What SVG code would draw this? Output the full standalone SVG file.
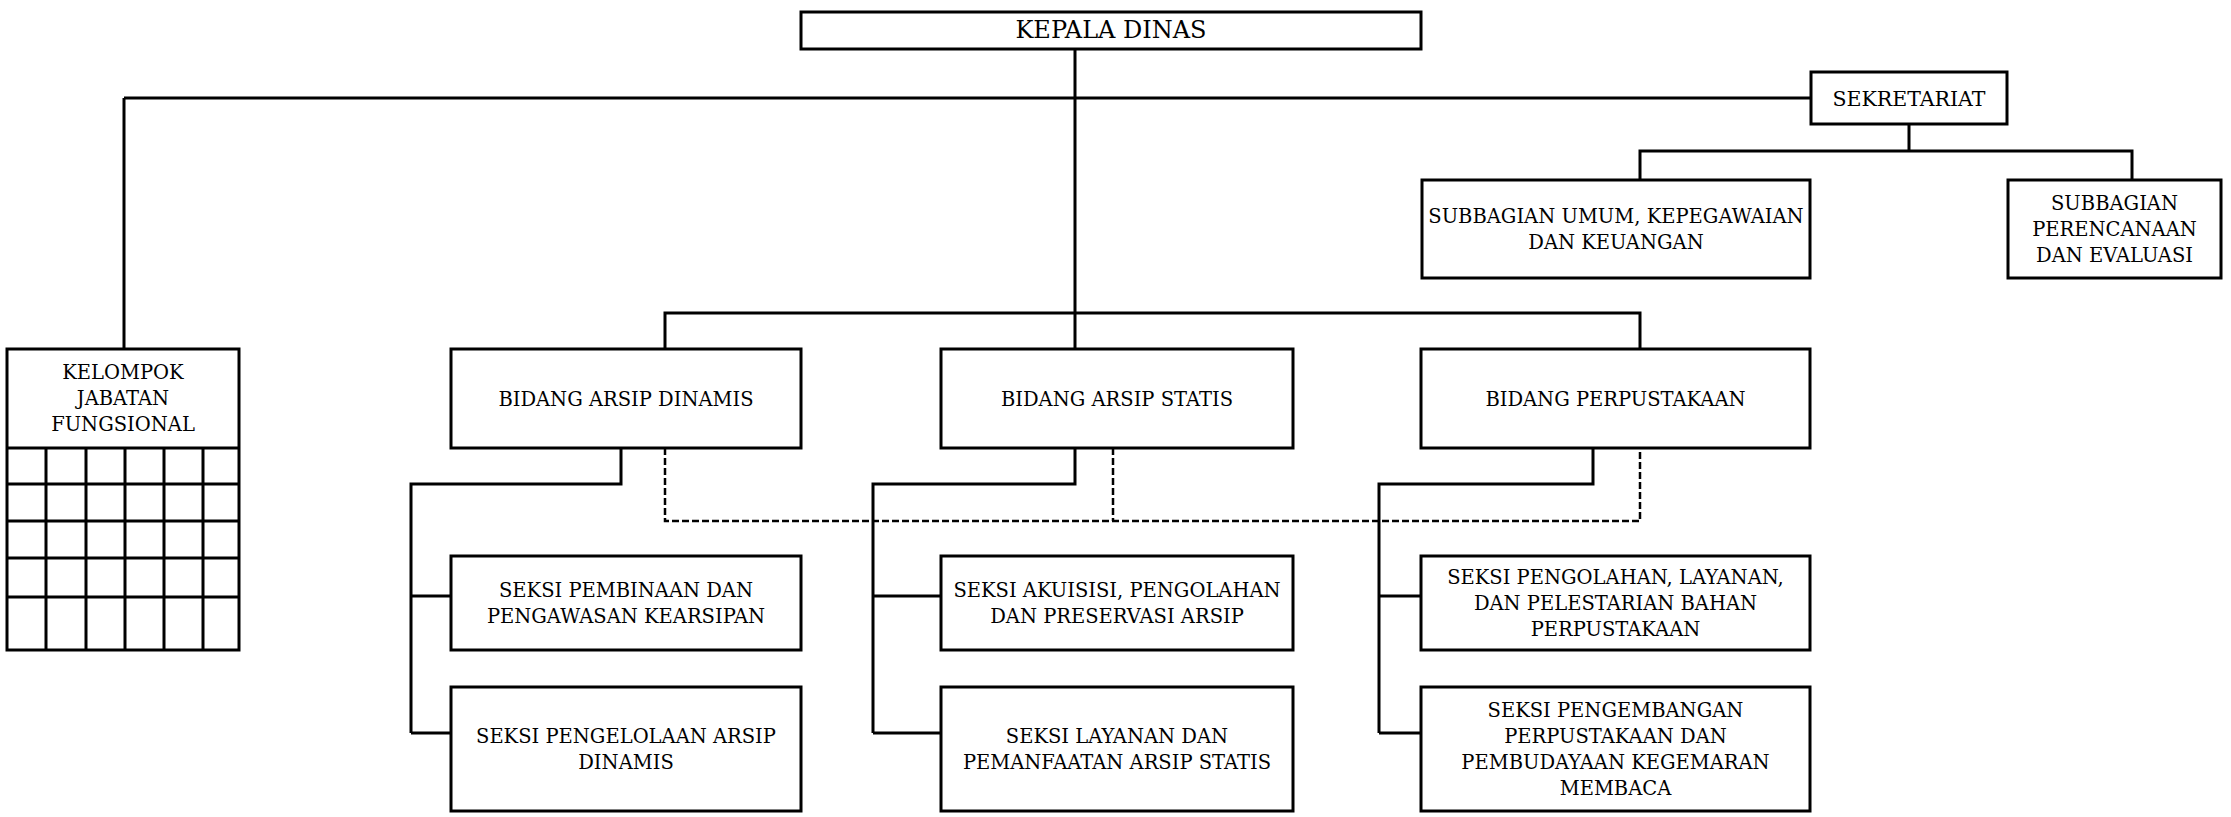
<svg xmlns="http://www.w3.org/2000/svg" width="2231" height="817" viewBox="0 0 2231 817">
<style>
.box{fill:#fff;stroke:#000;stroke-width:3}
.ln{fill:none;stroke:#000;stroke-width:3}
.dash{fill:none;stroke:#000;stroke-width:2.5;stroke-dasharray:7 3}
text{font-family:"DejaVu Serif","Liberation Serif",serif;font-size:19.5px;fill:#000;text-anchor:middle}
</style>
<rect width="2231" height="817" fill="#fff"/>
<g id="connectors">
<path class="ln" d="M1075 49V349M124 98H1811M124 98V349M665 349V313H1640V349"/>
<path class="ln" d="M1909 124V151M1640 180V151H2132V180"/>
<path class="ln" d="M621 448V484H411V733M411 596H451M411 733H451"/>
<path class="ln" d="M1075 448V484H873V733M873 596H941M873 733H941"/>
<path class="ln" d="M1593 448V484H1379V733M1379 596H1421M1379 733H1421"/>
<path class="dash" d="M665 448V521H1640V448M1113 448V521"/>
</g>
<g id="kepala-dinas"><rect class="box" x="801" y="12" width="620" height="37"/><text x="1111" y="38" style="font-size:24px">KEPALA DINAS</text></g>
<g id="sekretariat"><rect class="box" x="1811" y="72" width="196" height="52"/><text x="1909" y="106" style="font-size:20.5px">SEKRETARIAT</text></g>
<g id="subbagian-umum"><rect class="box" x="1422" y="180" width="388" height="98"/><text x="1616" y="223">SUBBAGIAN UMUM, KEPEGAWAIAN</text><text x="1616" y="249">DAN KEUANGAN</text></g>
<g id="subbagian-perencanaan"><rect class="box" x="2008" y="180" width="213" height="98"/><text x="2114.5" y="210">SUBBAGIAN</text><text x="2114.5" y="236">PERENCANAAN</text><text x="2114.5" y="262">DAN EVALUASI</text></g>
<g id="kelompok-jabatan-fungsional">
<rect class="box" x="7" y="349" width="232" height="301"/>
<path class="ln" d="M7 448H239M7 484H239M7 521H239M7 558H239M7 597H239M46 448V650M86 448V650M125 448V650M164 448V650M203 448V650"/>
<text x="123" y="379">KELOMPOK</text><text x="123" y="405">JABATAN</text><text x="123" y="431">FUNGSIONAL</text>
</g>
<g id="bidang-arsip-dinamis"><rect class="box" x="451" y="349" width="350" height="99"/><text x="626" y="405.5">BIDANG ARSIP DINAMIS</text></g>
<g id="bidang-arsip-statis"><rect class="box" x="941" y="349" width="352" height="99"/><text x="1117" y="405.5">BIDANG ARSIP STATIS</text></g>
<g id="bidang-perpustakaan"><rect class="box" x="1421" y="349" width="389" height="99"/><text x="1615.5" y="405.5">BIDANG PERPUSTAKAAN</text></g>
<g id="seksi-pembinaan"><rect class="box" x="451" y="556" width="350" height="94"/><text x="626" y="597">SEKSI PEMBINAAN DAN</text><text x="626" y="623">PENGAWASAN KEARSIPAN</text></g>
<g id="seksi-pengelolaan"><rect class="box" x="451" y="687" width="350" height="124"/><text x="626" y="743">SEKSI PENGELOLAAN ARSIP</text><text x="626" y="769">DINAMIS</text></g>
<g id="seksi-akuisisi"><rect class="box" x="941" y="556" width="352" height="94"/><text x="1117" y="597">SEKSI AKUISISI, PENGOLAHAN</text><text x="1117" y="623">DAN PRESERVASI ARSIP</text></g>
<g id="seksi-layanan"><rect class="box" x="941" y="687" width="352" height="124"/><text x="1117" y="743">SEKSI LAYANAN DAN</text><text x="1117" y="769">PEMANFAATAN ARSIP STATIS</text></g>
<g id="seksi-pengolahan-perpustakaan"><rect class="box" x="1421" y="556" width="389" height="94"/><text x="1615.5" y="584">SEKSI PENGOLAHAN, LAYANAN,</text><text x="1615.5" y="610">DAN PELESTARIAN BAHAN</text><text x="1615.5" y="636">PERPUSTAKAAN</text></g>
<g id="seksi-pengembangan"><rect class="box" x="1421" y="687" width="389" height="124"/><text x="1615.5" y="717">SEKSI PENGEMBANGAN</text><text x="1615.5" y="743">PERPUSTAKAAN DAN</text><text x="1615.5" y="769">PEMBUDAYAAN KEGEMARAN</text><text x="1615.5" y="795">MEMBACA</text></g>
</svg>
